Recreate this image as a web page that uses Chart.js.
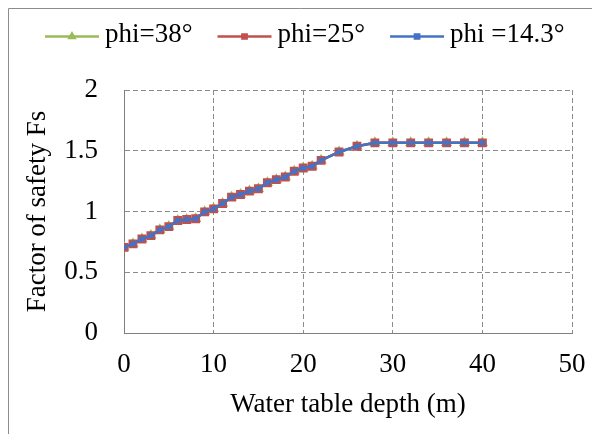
<!DOCTYPE html>
<html>
<head>
<meta charset="utf-8">
<script src="https://cdn.jsdelivr.net/npm/chart.js@4/dist/chart.umd.min.js"></script>
<style>
body{margin:0;background:#fff;}
#wrap{width:592px;height:434px;position:relative;}
</style>
</head>
<body>
<div id="wrap"><canvas id="grafik"></canvas></div>
<script>
// water table depth (m)
const depth = [0,1,2,3,4,5,6,7,8,9,10,11,12,13,14,15,16,17,18,19,20,21,22,24,26,28,30,32,34,36,38,40];

// factor of safety, the three curves lie on top of each other
const fsPhi38 = [0.705,0.733,0.774,0.802,0.849,0.876,0.926,0.934,0.940,0.997,1.022,1.066,1.118,1.140,1.168,1.187,1.237,1.262,1.284,1.331,1.358,1.372,1.421,1.490,1.537,1.565,1.565,1.565,1.565,1.565,1.565,1.565];
const fsPhi25 = [0.705,0.733,0.774,0.802,0.849,0.876,0.926,0.934,0.940,0.997,1.022,1.066,1.118,1.140,1.168,1.187,1.237,1.262,1.284,1.331,1.358,1.372,1.421,1.490,1.537,1.565,1.565,1.565,1.565,1.565,1.565,1.565];
const fsPhi143 = [0.705,0.733,0.774,0.802,0.849,0.876,0.926,0.934,0.940,0.997,1.022,1.066,1.118,1.140,1.168,1.187,1.237,1.262,1.284,1.331,1.358,1.372,1.421,1.490,1.537,1.565,1.565,1.565,1.565,1.565,1.565,1.565];

const seriesNames = ['phi=38\u00b0','phi=25\u00b0','phi =14.3\u00b0'];
const xTitle = 'Water table depth (m)';
const yTitle = 'Factor of safety Fs';

const FONT = '"Liberation Serif", "Times New Roman", serif';
const FSIZE = 27;

function pts(ys){
return depth.map((d,i)=>({x:d,y:ys[i]}));
}

// outer frame + legend with line and marker
const framePlugin = {
id:'frame',
beforeDraw(chart){
const c = chart.ctx;
c.save();
c.fillStyle='#fff';
c.fillRect(0,0,chart.width,chart.height);
c.strokeStyle='#8c8c8c';
c.lineWidth=1;
c.beginPath();
c.moveTo(8.5,chart.height);
c.lineTo(8.5,8.5);
c.lineTo(chart.width,8.5);
c.stroke();
c.restore();
},
afterDraw(chart){
const c = chart.ctx;
const sets = chart.data.datasets;
c.save();
c.font = FSIZE + 'px ' + FONT;
c.textBaseline='middle';
const lineLen = 54, gap = 6, sep = 25;
let x = 45;
const y = 36;
sets.forEach(ds=>{
c.strokeStyle = ds.borderColor;
c.lineWidth = 2.5;
c.beginPath();
c.moveTo(x,y+0.5);
c.lineTo(x+lineLen,y+0.5);
c.stroke();
c.fillStyle = ds.borderColor;
Chart.helpers.drawPoint(c,{pointStyle:ds.pointStyle,radius:3,borderWidth:1},x+lineLen/2,y+0.5);
c.fill();
c.fillStyle='#000';
c.fillText(ds.label,x+lineLen+gap,y-1);
x += lineLen + gap + c.measureText(ds.label).width + sep;
});
c.restore();
}
};

const ctx = document.getElementById('grafik');

const chart = new Chart(ctx,{
type:'line',
data:{
datasets:[
{
label:seriesNames[0],
data:pts(fsPhi38),
borderColor:'#9BBB59',
backgroundColor:'#9BBB59',
pointStyle:'triangle',
pointRadius:4,
borderWidth:2.5,
order:2
},
{
label:seriesNames[1],
data:pts(fsPhi25),
borderColor:'#C0504D',
backgroundColor:'#C0504D',
pointStyle:'rect',
pointRadius:4.5,
borderWidth:2.5,
order:1
},
{
label:seriesNames[2],
data:pts(fsPhi143),
borderColor:'#4472C4',
backgroundColor:'#4472C4',
pointStyle:'rect',
pointRadius:3.6,
pointBorderWidth:0,
borderWidth:2.5,
order:0
}
]
},
options:{
responsive:true,
maintainAspectRatio:false,
animation:false,
layout:{padding:{left:18,right:20,top:90,bottom:6}},
plugins:{
legend:{display:false},
tooltip:{enabled:false}
},
scales:{
x:{
type:'linear',
min:0,
max:50,
ticks:{stepSize:10,color:'#000',padding:16,font:{family:FONT,size:FSIZE}},
grid:{color:'#8a8a8a',drawTicks:false},
border:{color:'#7f7f7f',dash:[5,3]},
title:{display:true,text:xTitle,color:'#000',font:{family:FONT,size:FSIZE},padding:{top:0,bottom:7}},
afterFit(s){s.height=95;s.paddingLeft=0;s.paddingRight=0;}
},
y:{
min:0,
max:2,
ticks:{stepSize:0.5,color:'#000',padding:26,font:{family:FONT,size:FSIZE},callback:v=>String(v)},
grid:{color:'#8a8a8a',drawTicks:false},
border:{color:'#7f7f7f',dash:[5,3]},
title:{display:true,text:yTitle,color:'#000',font:{family:FONT,size:FSIZE},padding:{top:4,bottom:0}},
afterFit(s){s.width=106;s.paddingTop=0;s.paddingBottom=0;}
}
}
},
plugins:[framePlugin]
});
</script>
</body>
</html>
